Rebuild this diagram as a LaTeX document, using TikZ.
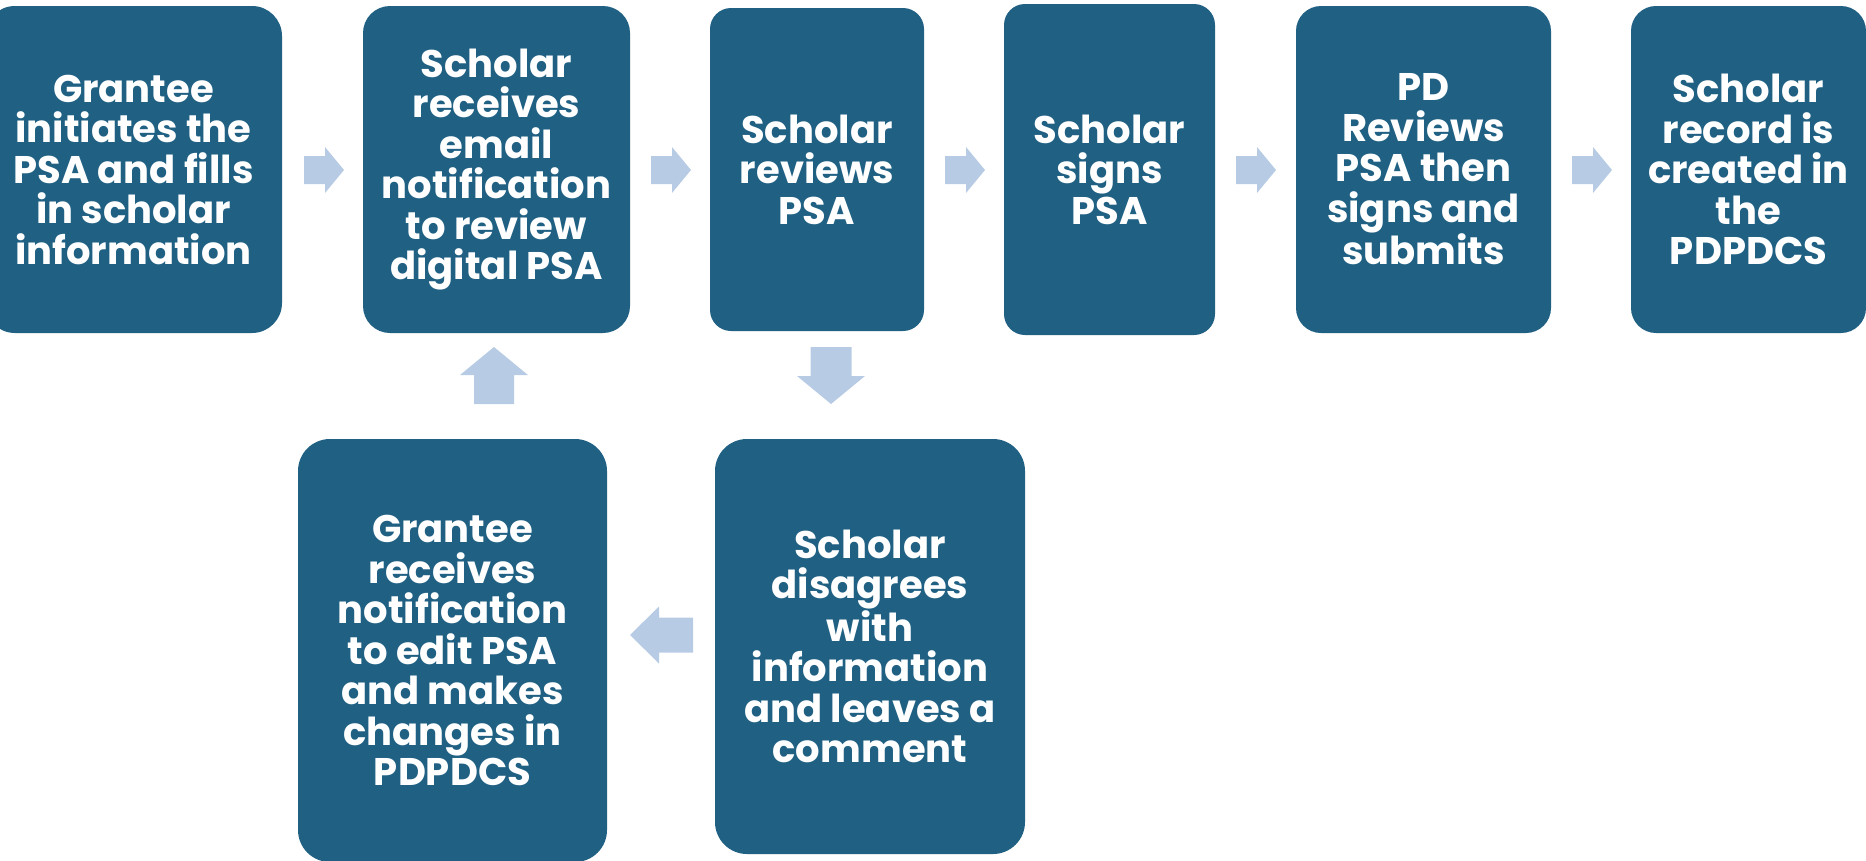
\documentclass[tikz,border=0pt]{standalone}
\usepackage{fontspec}
\setmainfont{Poppins}
\definecolor{boxc}{HTML}{1F6083}
\definecolor{arrowc}{HTML}{B7CCE4}
\newcommand\blkarrow[7]{%
  \fill[arrowc, shift={(#1,#2)}, rotate=#3]
    (-#4,-#7) -- (#4-#5,-#7) -- (#4-#5,-#6) -- (#4,0) -- (#4-#5,#6) -- (#4-#5,#7) -- (-#4,#7) -- cycle;}
\tikzset{
  stepbox/.style={fill=boxc, text=white, align=center, inner sep=0pt,
    font=\bfseries\fontsize{38.5}{40.5}\selectfont},
}
\begin{document}
\begin{tikzpicture}[x=1pt,y=-1pt]
\useasboundingbox (0,0) rectangle (1866,860);
\node[stepbox, minimum width=297pt, minimum height=327pt, rounded corners=30pt] (b1) at (133.5,169.5)
  {Grantee\\initiates the\\PSA and fills\\in scholar\\information};
\node[stepbox, minimum width=267pt, minimum height=327pt, rounded corners=27pt] (b2) at (496.5,169.5)
  {Scholar\\receives\\email\\notification\\to review\\digital PSA};
\node[stepbox, minimum width=214pt, minimum height=323pt, rounded corners=21pt] (b3) at (817,169.5)
  {Scholar\\reviews\\PSA};
\node[stepbox, minimum width=211pt, minimum height=331pt, rounded corners=21pt] (b4) at (1109.5,169.5)
  {Scholar\\signs\\PSA};
\node[stepbox, minimum width=255pt, minimum height=327pt, rounded corners=25pt] (b5) at (1423.5,169.5)
  {PD\\Reviews\\PSA then\\signs and\\submits};
\node[stepbox, minimum width=235pt, minimum height=327pt, rounded corners=25pt] (b6) at (1748.5,169.5)
  {Scholar\\record is\\created in\\the\\PDPDCS};
\node[stepbox, minimum width=309pt, minimum height=423pt, rounded corners=32pt] (b7) at (452.5,650.5)
  {Grantee\\receives\\notification\\to edit PSA\\and makes\\changes in\\PDPDCS};
\node[stepbox, minimum width=310pt, minimum height=415pt, rounded corners=32pt] (b8) at (870,646.5)
  {Scholar\\disagrees\\with\\information\\and leaves a\\comment};
% block arrows
\blkarrow{324}{170}{0}{20}{19}{23}{14}
\blkarrow{671}{170}{0}{20}{19}{23}{14}
\blkarrow{965}{170}{0}{20}{19}{23}{14}
\blkarrow{1256}{170}{0}{20}{19}{23}{14}
\blkarrow{1592}{170}{0}{20}{19}{23}{14}
\blkarrow{831}{375.5}{-90}{28.5}{28}{34}{20.5}
\blkarrow{494}{375.5}{90}{28.5}{28}{34}{20}
\blkarrow{661.5}{635}{180}{31.5}{29}{28.5}{17.5}
\end{tikzpicture}
\end{document}
